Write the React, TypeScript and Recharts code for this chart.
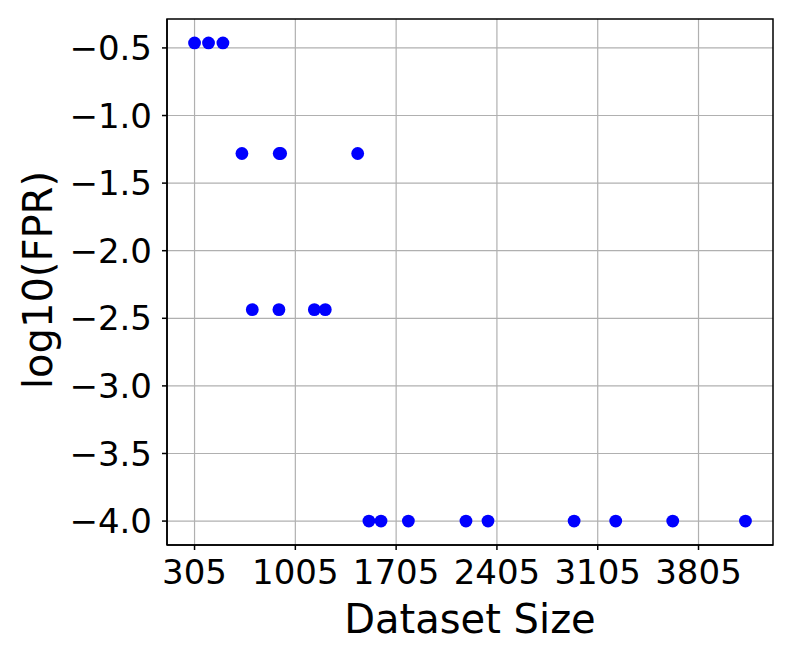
import { ScatterChart, Scatter, XAxis, YAxis, CartesianGrid, ReferenceArea } from 'recharts';

const FONT = '"DejaVu Sans", sans-serif';

// dataset size vs log10(FPR)
const datasetSizes = [305, 402, 502, 634, 893, 903, 1438, 706, 891, 1137, 1213, 1516, 1600, 1790, 2190, 2343, 2941, 3230, 3626, 4131];
const logFpr = [-0.463, -0.463, -0.463, -1.281, -1.281, -1.281, -1.281, -2.436, -2.436, -2.436, -2.436, -4.0, -4.0, -4.0, -4.0, -4.0, -4.0, -4.0, -4.0, -4.0];

const xTicks = [305, 1005, 1705, 2405, 3105, 3805];
const yTicks = [-4.0, -3.5, -3.0, -2.5, -2.0, -1.5, -1.0, -0.5];

const xDomain = [113.7, 4322.3];
const yDomain = [-4.177, -0.286];

const points = datasetSizes.map((x, i) => ({ x, y: logFpr[i] }));

const fmtY = (v: number) => v.toFixed(1).replace('-', '\u2212');

const Dot = (props: any) => <circle cx={props.cx} cy={props.cy} r={6.4} fill="#0000ff" />;

const App = () => {
  return (
    <div style={{ position: 'absolute', left: 0, top: 0, background: '#fff' }}>
      <ScatterChart width={793} height={661} margin={{ top: 19, right: 20, bottom: 56, left: 67 }}>
        <CartesianGrid stroke="#b0b0b0" strokeWidth={1.2} horizontalValues={yTicks} verticalValues={xTicks} />
        <XAxis
          type="number"
          dataKey="x"
          domain={xDomain}
          ticks={xTicks}
          allowDataOverflow
          height={60}
          tickSize={5}
          tickMargin={10}
          axisLine={{ stroke: '#000', strokeWidth: 1.5 }}
          tickLine={{ stroke: '#000', strokeWidth: 1.5 }}
          tick={{ fill: '#000', fontSize: 34, fontFamily: FONT }}
          label={{
            content: () => (
              <text x={470} y={619} textAnchor="middle" dominantBaseline="central" fontSize={40} fontFamily={FONT} fill="#000">
                Dataset Size
              </text>
            ),
          }}
        />
        <YAxis
          type="number"
          dataKey="y"
          domain={yDomain}
          ticks={yTicks}
          allowDataOverflow
          width={100}
          tickSize={5}
          tickMargin={10}
          tickFormatter={fmtY}
          axisLine={{ stroke: '#000', strokeWidth: 1.5 }}
          tickLine={{ stroke: '#000', strokeWidth: 1.5 }}
          tick={{ fill: '#000', fontSize: 34, fontFamily: FONT }}
          label={{
            content: () => (
              <text
                x={38}
                y={280}
                transform="rotate(-90 38 280)"
                textAnchor="middle"
                dominantBaseline="central"
                fontSize={40}
                fontFamily={FONT}
                fill="#000"
              >
                log10(FPR)
              </text>
            ),
          }}
        />
        <ReferenceArea
          x1={xDomain[0]}
          x2={xDomain[1]}
          y1={yDomain[0]}
          y2={yDomain[1]}
          fill="none"
          fillOpacity={0}
          stroke="#000"
          strokeWidth={1.5}
          ifOverflow="visible"
        />
        <Scatter data={points} fill="#0000ff" shape={Dot} isAnimationActive={false} />
      </ScatterChart>
    </div>
  );
};

export default App;
